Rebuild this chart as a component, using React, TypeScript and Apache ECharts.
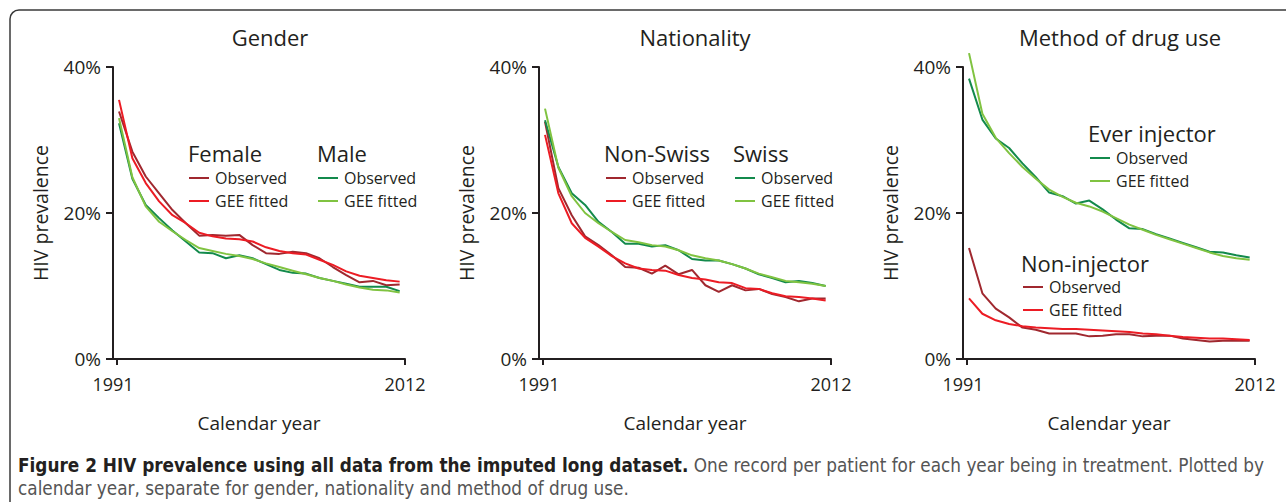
import React, { useEffect, useRef } from "react";
import * as echarts from "echarts";

const years = [1991, 1992, 1993, 1994, 1995, 1996, 1997, 1998, 1999, 2000, 2001, 2002, 2003, 2004, 2005, 2006, 2007, 2008, 2009, 2010, 2011, 2012];
const yTicks = [0, 20, 40];
const xTickLabels = ["1991", "2012"];

const femaleObserved = [33.9, 28.4, 25.0, 22.7, 20.4, 18.6, 16.9, 17.0, 16.9, 17.0, 15.6, 14.5, 14.4, 14.7, 14.5, 13.8, 12.6, 11.5, 10.5, 10.7, 10.1, 10.2];
const femaleFitted = [35.5, 27.5, 24.1, 21.6, 19.7, 18.6, 17.3, 16.8, 16.5, 16.4, 16.1, 15.3, 14.8, 14.5, 14.3, 13.6, 12.9, 12.0, 11.4, 11.1, 10.8, 10.6];
const maleObserved = [32.3, 24.7, 21.1, 19.3, 17.6, 16.1, 14.6, 14.5, 13.8, 14.2, 13.8, 13.0, 12.2, 11.8, 11.7, 11.1, 10.7, 10.3, 9.9, 9.9, 9.9, 9.3];
const maleFitted = [33.0, 24.9, 20.9, 18.8, 17.5, 16.3, 15.2, 14.8, 14.4, 14.1, 13.7, 13.1, 12.6, 12.1, 11.6, 11.1, 10.7, 10.2, 9.8, 9.5, 9.4, 9.1];

const nonSwissObserved = [32.5, 23.4, 19.7, 16.8, 15.6, 14.2, 12.6, 12.5, 11.7, 12.8, 11.6, 12.2, 10.1, 9.2, 10.1, 9.4, 9.6, 8.9, 8.5, 7.9, 8.3, 8.3];
const nonSwissFitted = [30.7, 22.7, 18.6, 16.6, 15.4, 14.1, 13.1, 12.4, 12.2, 12.1, 11.5, 11.1, 10.9, 10.5, 10.4, 9.7, 9.6, 9.0, 8.6, 8.5, 8.3, 8.0];
const swissObserved = [32.7, 26.3, 22.7, 21.1, 18.8, 17.4, 15.8, 15.8, 15.4, 15.6, 14.9, 13.7, 13.5, 13.5, 13.0, 12.4, 11.6, 11.1, 10.5, 10.7, 10.4, 10.0];
const swissFitted = [34.3, 26.2, 22.3, 20.0, 18.6, 17.4, 16.3, 16.0, 15.6, 15.4, 14.9, 14.2, 13.8, 13.5, 13.0, 12.4, 11.7, 11.2, 10.7, 10.5, 10.3, 10.0];

const everObserved = [38.4, 32.8, 30.2, 28.9, 26.8, 24.9, 22.8, 22.3, 21.3, 21.7, 20.5, 19.1, 17.9, 17.8, 17.1, 16.5, 15.9, 15.3, 14.7, 14.6, 14.2, 13.9];
const everFitted = [41.9, 33.6, 30.3, 28.2, 26.3, 24.7, 23.2, 22.2, 21.4, 20.9, 20.2, 19.3, 18.4, 17.7, 17.0, 16.4, 15.8, 15.2, 14.6, 14.1, 13.8, 13.6];
const nonInjObserved = [15.2, 9.0, 6.9, 5.7, 4.3, 4.0, 3.5, 3.5, 3.5, 3.1, 3.2, 3.4, 3.4, 3.1, 3.2, 3.2, 2.8, 2.6, 2.4, 2.5, 2.5, 2.5];
const nonInjFitted = [8.3, 6.2, 5.3, 4.8, 4.5, 4.3, 4.2, 4.1, 4.1, 4.0, 3.9, 3.8, 3.7, 3.5, 3.4, 3.2, 3.0, 2.9, 2.8, 2.8, 2.7, 2.6];

const panelTitles = ["Gender", "Nationality", "Method of drug use"];
const groupNames = ["Female", "Male", "Non-Swiss", "Swiss", "Ever injector", "Non-injector"];
const itemNames = ["Observed", "GEE fitted"];

const DARK_RED = "#a0282f";
const RED = "#ec1c24";
const DARK_GREEN = "#138a4c";
const LIGHT_GREEN = "#80c341";
const INK = "#231f20";
const FONT = "'Open Sans', 'Noto Sans', sans-serif";
const CAPTION_FONT = "'Liberation Sans Narrow', 'DejaVu Sans Condensed', sans-serif";

const gridLefts = [113, 539, 963];
const titleCenters = [270, 695, 1120];

export default function App() {
  const ref = useRef<HTMLDivElement>(null);

  useEffect(() => {
    if (!ref.current) return;
    const chart = echarts.init(ref.current, null, { renderer: "svg" });

    const pairs = (vals: number[]) => years.map((y, i) => [y, vals[i]]);

    const grids = gridLefts.map((left) => ({ left, top: 67, width: 292, height: 292 }));

    const xAxes = gridLefts.map((_, i) => ({
      type: "value",
      gridIndex: i,
      min: 1990.55,
      max: 2012.4,
      name: "Calendar year",
      nameLocation: "middle",
      nameGap: 54,
      nameTextStyle: { fontFamily: FONT, fontSize: 19, color: INK },
      axisLine: { show: true, onZero: false, lineStyle: { color: INK, width: 2 } },
      axisTick: { show: true, length: 6, customValues: [1990.85, 2012.35], lineStyle: { color: INK, width: 2 } },
      axisLabel: {
        fontFamily: FONT,
        fontSize: 18,
        color: INK,
        margin: 16,
        customValues: [1990.55, 2012.4],
        formatter: (v: number) => (v < 2000 ? xTickLabels[0] : xTickLabels[1]),
      },
      splitLine: { show: false },
    }));

    const yAxes = gridLefts.map((_, i) => ({
      type: "value",
      gridIndex: i,
      min: yTicks[0],
      max: yTicks[yTicks.length - 1],
      interval: 20,
      name: "HIV prevalence",
      nameLocation: "middle",
      nameGap: 63,
      nameRotate: 90,
      nameTextStyle: { fontFamily: FONT, fontSize: 19.5, color: INK },
      axisLine: { show: true, lineStyle: { color: INK, width: 2 } },
      axisTick: { show: true, length: 7, lineStyle: { color: INK, width: 2 } },
      axisLabel: { fontFamily: FONT, fontSize: 19, color: INK, margin: 12, formatter: "{value}%" },
      splitLine: { show: false },
    }));

    const mk = (name: string, vals: number[], color: string, idx: number) => ({
      type: "line",
      name,
      xAxisIndex: idx,
      yAxisIndex: idx,
      data: pairs(vals),
      showSymbol: false,
      symbol: "none",
      clip: false,
      lineStyle: { color, width: 2 },
      itemStyle: { color },
    });

    const series = [
      mk("Female|Observed", femaleObserved, DARK_RED, 0),
      mk("Female|GEE fitted", femaleFitted, RED, 0),
      mk("Male|Observed", maleObserved, DARK_GREEN, 0),
      mk("Male|GEE fitted", maleFitted, LIGHT_GREEN, 0),
      mk("Non-Swiss|Observed", nonSwissObserved, DARK_RED, 1),
      mk("Non-Swiss|GEE fitted", nonSwissFitted, RED, 1),
      mk("Swiss|Observed", swissObserved, DARK_GREEN, 1),
      mk("Swiss|GEE fitted", swissFitted, LIGHT_GREEN, 1),
      mk("Ever injector|Observed", everObserved, DARK_GREEN, 2),
      mk("Ever injector|GEE fitted", everFitted, LIGHT_GREEN, 2),
      mk("Non-injector|Observed", nonInjObserved, DARK_RED, 2),
      mk("Non-injector|GEE fitted", nonInjFitted, RED, 2),
    ];

    const legendPos: { g: string; left: number; top: number; hx: number; hy: number }[] = [
      { g: groupNames[0], left: 189, top: 170, hx: 188, hy: 153 },
      { g: groupNames[1], left: 318, top: 170, hx: 317, hy: 153 },
      { g: groupNames[2], left: 606, top: 170, hx: 604, hy: 153 },
      { g: groupNames[3], left: 735, top: 170, hx: 733, hy: 153 },
      { g: groupNames[4], left: 1090, top: 150, hx: 1088, hy: 133 },
      { g: groupNames[5], left: 1023, top: 279, hx: 1021, hy: 263 },
    ];

    const legends = legendPos.map((p) => ({
      show: true,
      left: p.left,
      top: p.top,
      orient: "vertical",
      padding: 0,
      itemGap: 7,
      itemWidth: 20,
      itemHeight: 2,
      icon: "rect",
      selectedMode: false,
      data: itemNames.map((n) => `${p.g}|${n}`),
      formatter: (name: string) => name.split("|")[1],
      textStyle: { fontFamily: FONT, fontSize: 16, color: INK, lineHeight: 16, padding: [0, 0, 0, 1] },
    }));

    const graphic: any[] = [
      {
        type: "rect",
        shape: { x: 10, y: 10, width: 1320, height: 540, r: 9 },
        style: { fill: "none", stroke: "#3a3a3a", lineWidth: 1.5 },
        silent: true,
      },
      ...panelTitles.map((t, i) => ({
        type: "text",
        x: titleCenters[i],
        y: 37,
        style: { text: t, fontFamily: FONT, fontSize: 22, fill: INK, align: "center", verticalAlign: "middle" },
      })),
      ...legendPos.map((p) => ({
        type: "text",
        x: p.hx,
        y: p.hy,
        style: { text: p.g, fontFamily: FONT, fontSize: 22, fill: INK, align: "left", verticalAlign: "middle" },
      })),
      {
        type: "text",
        x: 18,
        y: 465,
        style: {
          text:
            "{b|Figure 2 HIV prevalence using all data from the imputed long dataset.}{n| One record per patient for each year being in treatment. Plotted by}",
          verticalAlign: "middle",
          rich: {
            b: { fontFamily: CAPTION_FONT, fontSize: 18.8, fontWeight: "bold", fill: INK },
            n: { fontFamily: CAPTION_FONT, fontSize: 18.8, fill: "#555555" },
          },
        },
      },
      {
        type: "text",
        x: 18,
        y: 488,
        style: {
          text: "calendar year, separate for gender, nationality and method of drug use.",
          verticalAlign: "middle",
          fontFamily: CAPTION_FONT,
          fontSize: 18.8,
          fill: "#555555",
        },
      },
    ];

    chart.setOption({
      animation: false,
      backgroundColor: "#ffffff",
      grid: grids,
      xAxis: xAxes,
      yAxis: yAxes,
      legend: legends,
      series,
      graphic,
    });

    return () => chart.dispose();
  }, []);

  return (
    <div
      ref={ref}
      style={{ position: "fixed", left: 0, top: 0, width: 1286, height: 502 }}
    />
  );
}
